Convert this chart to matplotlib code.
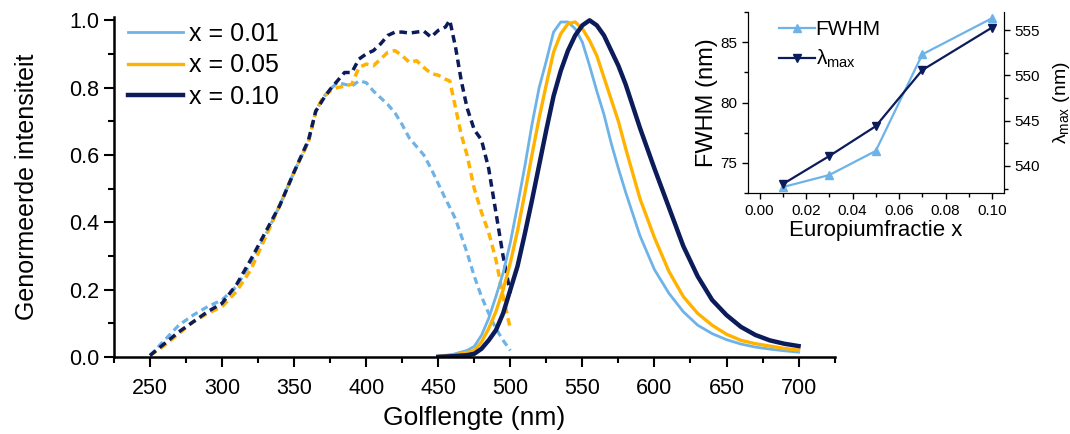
import numpy as np
import matplotlib
matplotlib.use('Agg')
import matplotlib.pyplot as plt
from matplotlib.ticker import MultipleLocator

plt.rcParams['font.family'] = ['Liberation Sans', 'DejaVu Sans']
plt.rcParams['mathtext.fontset'] = 'custom'
plt.rcParams['mathtext.rm'] = 'Liberation Sans'

# colours of the three Eu fractions
c_01 = '#6db3e8'
c_05 = '#ffb300'
c_10 = '#0c1c5b'

# excitation spectra (dashed)
exc_wl = [250, 260, 270, 280, 290, 300, 310, 320, 330, 340, 350, 360, 365, 370, 375,
          380, 385, 390, 395, 400, 405, 410, 415, 420, 425, 430, 435, 440, 445, 450,
          455, 458, 462, 466, 470, 475, 480, 485, 490, 495, 500]
exc_01 = [0.005, 0.05, 0.095, 0.125, 0.15, 0.17, 0.21, 0.28, 0.36, 0.45, 0.55, 0.64, 0.73, 0.77, 0.795,
          0.815, 0.81, 0.805, 0.82, 0.815, 0.79, 0.77, 0.75, 0.725, 0.69, 0.65, 0.625, 0.60, 0.56, 0.515,
          0.47, 0.445, 0.41, 0.36, 0.31, 0.24, 0.18, 0.13, 0.085, 0.05, 0.02]
exc_05 = [0.005, 0.035, 0.07, 0.105, 0.13, 0.15, 0.195, 0.26, 0.355, 0.45, 0.55, 0.64, 0.73, 0.77, 0.79,
          0.80, 0.805, 0.81, 0.86, 0.87, 0.865, 0.885, 0.905, 0.91, 0.895, 0.875, 0.88, 0.86, 0.842, 0.837,
          0.825, 0.82, 0.74, 0.66, 0.60, 0.50, 0.43, 0.37, 0.29, 0.18, 0.085]
exc_10 = [0.005, 0.04, 0.075, 0.105, 0.135, 0.16, 0.215, 0.29, 0.37, 0.45, 0.55, 0.645, 0.73, 0.765, 0.795,
          0.82, 0.845, 0.845, 0.885, 0.90, 0.91, 0.93, 0.955, 0.965, 0.965, 0.962, 0.965, 0.968, 0.95, 0.97,
          0.98, 1.0, 0.92, 0.82, 0.74, 0.675, 0.645, 0.56, 0.43, 0.30, 0.19]

# emission spectra (solid)
em_wl = [450, 460, 470, 475, 480, 485, 490, 495, 500, 505, 510, 515, 520, 525, 530, 535, 540, 545,
         550, 555, 560, 565, 570, 575, 580, 590, 600, 610, 620, 630, 640, 650, 660, 670, 680, 690, 700]
em_01 = [0.003, 0.008, 0.02, 0.032, 0.065, 0.115, 0.18, 0.25, 0.34, 0.45, 0.565, 0.69, 0.80, 0.88, 0.965, 0.995, 0.995, 0.975,
         0.935, 0.865, 0.79, 0.72, 0.635, 0.56, 0.49, 0.36, 0.26, 0.19, 0.135, 0.095, 0.07, 0.052, 0.039, 0.03, 0.024, 0.019, 0.015]
em_05 = [0.002, 0.006, 0.014, 0.02, 0.045, 0.085, 0.135, 0.2, 0.28, 0.375, 0.485, 0.6, 0.71, 0.81, 0.905, 0.96, 0.99, 0.995,
         0.975, 0.94, 0.895, 0.83, 0.765, 0.7, 0.62, 0.47, 0.355, 0.255, 0.18, 0.13, 0.095, 0.068, 0.05, 0.04, 0.033, 0.026, 0.021]
em_10 = [0.001, 0.003, 0.006, 0.01, 0.025, 0.05, 0.08, 0.13, 0.2, 0.27, 0.365, 0.465, 0.57, 0.675, 0.775, 0.85, 0.91, 0.955,
         0.985, 1.0, 0.985, 0.955, 0.91, 0.865, 0.81, 0.68, 0.56, 0.445, 0.33, 0.24, 0.17, 0.125, 0.09, 0.066, 0.05, 0.04, 0.033]

# inset data
eu_x = [0.01, 0.03, 0.05, 0.07, 0.10]
fwhm = [73.0, 74.0, 76.0, 84.0, 87.0]
lam_max = [538.0, 541.1, 544.4, 550.6, 555.3]

fig = plt.figure(figsize=(10.7, 4.34), dpi=100)
ax = fig.add_axes([0.1065, 0.177, 0.6735, 0.784])

dash = (0, (2.2, 1.4))
ax.plot(exc_wl, exc_01, color=c_01, lw=2.3, ls=dash)
ax.plot(exc_wl, exc_05, color=c_05, lw=2.5, ls=dash)
ax.plot(exc_wl, exc_10, color=c_10, lw=2.5, ls=dash)
ax.plot(em_wl, em_01, color=c_01, lw=2.0, label='x = 0.01')
ax.plot(em_wl, em_05, color=c_05, lw=2.4, label='x = 0.05')
ax.plot(em_wl, em_10, color=c_10, lw=3.2, label='x = 0.10')

ax.set_xlim(225, 725)
ax.set_ylim(0, 1.01)
ax.set_xticks(range(250, 701, 50))
ax.xaxis.set_minor_locator(MultipleLocator(25))
ax.yaxis.set_major_locator(MultipleLocator(0.2))
ax.yaxis.set_minor_locator(MultipleLocator(0.1))
ax.tick_params(which='both', direction='out', width=1.5, labelsize=15.5)
ax.tick_params(which='major', length=7)
ax.tick_params(which='minor', length=4.5)
ax.tick_params(axis='x', pad=8)
for s in ['top', 'right']:
    ax.spines[s].set_visible(False)
for s in ['left', 'bottom']:
    ax.spines[s].set_linewidth(1.8)
ax.set_xlabel('Golflengte (nm)', fontsize=19, labelpad=5)
ax.set_ylabel('Genormeerde intensiteit', fontsize=18, labelpad=22)
ax.legend(loc='upper left', frameon=False, fontsize=18, handlelength=2.2,
          handletextpad=0.25, labelspacing=0.3, borderaxespad=0.0,
          bbox_to_anchor=(0.005, 1.015))

# inset
ins = fig.add_axes([0.699, 0.555, 0.239, 0.417])
l1, = ins.plot(eu_x, fwhm, color=c_01, lw=1.6, marker='^', ms=6, label='FWHM')
ins.set_xlim(-0.005, 0.105)
ins.set_ylim(72.5, 87.5)
ins.xaxis.set_major_locator(MultipleLocator(0.02))
ins.xaxis.set_minor_locator(MultipleLocator(0.01))
ins.yaxis.set_major_locator(MultipleLocator(5))
ins.yaxis.set_minor_locator(MultipleLocator(2.5))
ins.xaxis.set_major_formatter(plt.FormatStrFormatter('%.2f'))
ins.tick_params(which='both', direction='out', labelsize=11, width=1)
ins.tick_params(which='major', length=4)
ins.tick_params(which='minor', length=3)
ins.set_xlabel('Europiumfractie x', fontsize=16, labelpad=2)
ins.set_ylabel('FWHM (nm)', fontsize=17, labelpad=2)
ins.spines['top'].set_visible(False)

ins2 = ins.twinx()
l2, = ins2.plot(eu_x, lam_max, color=c_10, lw=1.6, marker='v', ms=6)
ins2.set_ylim(537, 557)
ins2.yaxis.set_major_locator(MultipleLocator(5))
ins2.yaxis.set_minor_locator(MultipleLocator(2.5))
ins2.tick_params(which='both', direction='out', labelsize=11, width=1)
ins2.tick_params(which='major', length=4)
ins2.tick_params(which='minor', length=3)
ins2.spines['top'].set_visible(False)
ins2.set_ylabel('λ$_{\\mathrm{max}}$ (nm)', fontsize=14, labelpad=8)

ins.legend([l1, l2], ['FWHM', 'λ$_{\\mathrm{max}}$'], loc='upper left', frameon=False,
           fontsize=15, handlelength=1.7, handletextpad=0.05, labelspacing=0.4,
           borderaxespad=0.0, bbox_to_anchor=(0.09, 1.0))

fig.savefig('out.png', dpi=100)
